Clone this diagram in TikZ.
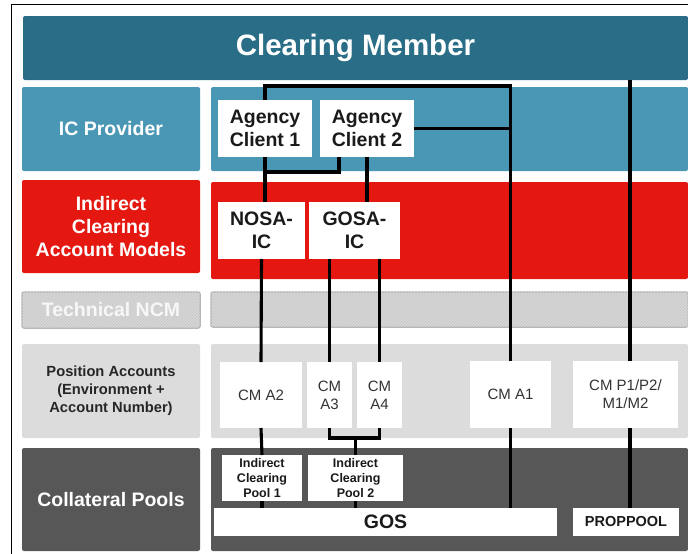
\documentclass[tikz,border=0pt]{standalone}
\usepackage{fontspec}
\setmainfont{Liberation Sans}
\usetikzlibrary{calc,patterns}

\definecolor{memberteal}{RGB}{41,110,134}
\definecolor{providerblue}{RGB}{74,151,181}
\definecolor{modelred}{RGB}{228,24,16}
\definecolor{ncmgray}{RGB}{206,206,206}
\definecolor{ncmedge}{RGB}{182,182,182}
\definecolor{ncmhatch}{RGB}{218,218,218}
\definecolor{posgray}{RGB}{220,220,220}
\definecolor{poolgray}{RGB}{87,87,87}
\definecolor{cardtext}{RGB}{26,26,26}

\begin{document}
\begin{tikzpicture}[x=1pt, y=-1pt]

        % Pixel grid of the page, y runs downwards
        \useasboundingbox (0,0) rectangle (688,554);

        \tikzset{
            band/.style={anchor=north west, inner sep=0pt, outer sep=0pt,
                rounded corners=2pt, align=center},
            leftlabel/.style={band, minimum width=178pt, text=white,
                font=\bfseries\fontsize{19.5}{23}\selectfont},
            rightband/.style={band, minimum width=477pt},
            card/.style={anchor=north west, fill=white, inner sep=0pt,
                outer sep=0pt, align=center, text=cardtext,
                font=\bfseries\fontsize{19.5}{23}\selectfont},
            account/.style={card, font=\fontsize{15}{18}\selectfont,
                text=black!80},
            pool/.style={card, font=\bfseries\fontsize{12.5}{15}\selectfont},
            link/.style={line width=3.1pt, black}
        }

        % Outer frame, cut off at the right
        \draw[line width=1pt] (11,554) -- (11,4) -- (688,4);

        % Header bar
        \node[band, fill=memberteal, minimum width=665pt, minimum height=64pt,
            text=white, font=\bfseries\fontsize{29.5}{34}\selectfont]
            (cm) at (23,16) {Clearing Member};

        % Row labels on the left
        \node[leftlabel, fill=providerblue, minimum height=84pt]
            (icp) at (22,87) {IC Provider};
        \node[leftlabel, fill=modelred, minimum height=93pt]
            (ica) at (22,180) {Indirect\\Clearing\\Account Models};
        \node[leftlabel, fill=ncmgray, draw=ncmedge, line width=1.5pt,
            postaction={pattern=north east lines, pattern color=ncmhatch},
            minimum height=36pt, text=white!94!gray]
            (tnc) at (22,292) {Technical NCM};
        \node[leftlabel, fill=posgray, minimum height=94pt, text=black!85,
            font=\bfseries\fontsize{14.7}{18}\selectfont]
            (pos) at (22,344) {Position Accounts\\(Environment +\\Account Number)};
        \node[leftlabel, fill=poolgray, minimum height=103pt]
            (col) at (22,448) {Collateral Pools};

        % Bands on the right
        \node[rightband, fill=providerblue, minimum height=84pt] (icpband) at (211,87) {};
        \node[rightband, fill=modelred, minimum height=97pt] (icaband) at (211,182) {};
        \node[rightband, fill=ncmgray, draw=ncmedge, line width=1.5pt,
            postaction={pattern=north east lines, pattern color=ncmhatch},
            minimum height=35pt] (tncband) at (211,292) {};
        \node[rightband, fill=posgray, minimum height=94pt] (posband) at (211,344) {};
        \node[rightband, fill=poolgray, minimum height=103pt] (colband) at (211,448) {};

        % Clients and account models
        \node[card, minimum width=94pt, minimum height=57pt] (cl1) at (218,100) {Agency\\Client 1};
        \node[card, minimum width=94pt, minimum height=57pt] (cl2) at (320,100) {Agency\\Client 2};
        \node[card, minimum width=87pt, minimum height=57pt] (nosa) at (218,202) {NOSA-\\IC};
        \node[card, minimum width=91pt, minimum height=57pt] (gosa) at (309,202) {GOSA-\\IC};

        % Position accounts
        \node[account, minimum width=82pt, minimum height=66pt] (cma2) at (220,362) {CM A2};
        \node[account, minimum width=45pt, minimum height=66pt] (cma3) at (307,362) {CM\\A3};
        \node[account, minimum width=45pt, minimum height=66pt] (cma4) at (357,362) {CM\\A4};
        \node[account, minimum width=81pt, minimum height=67pt] (cma1) at (470,361) {CM A1};
        \node[account, minimum width=105pt, minimum height=67pt] (cmp) at (573,361) {CM P1/P2/\\M1/M2};

        % Collateral pools
        \node[pool, minimum width=80pt, minimum height=46pt] (pool1) at (222,455) {Indirect\\Clearing\\Pool 1};
        \node[pool, minimum width=95pt, minimum height=46pt] (pool2) at (308,455) {Indirect\\Clearing\\Pool 2};
        \node[card, minimum width=343pt, minimum height=28pt] (gos) at (214,508) {GOS};
        \node[card, minimum width=106pt, minimum height=28pt,
            font=\bfseries\fontsize{14.5}{17}\selectfont] (prop) at (573,508) {PROPPOOL};

        \coordinate (brk) at ($(cma3.south) + (0,10)$);

        \begin{scope}[link]
            \draw (cl1.north) -- ++(0,-14) -| (cma1.north);
            \draw (cl2.east) -- (cl2.east -| cma1);
            \draw (cl1.south) -- (cl1.south |- nosa.north);
            \draw ([xshift=-28pt]cl2.south) -- ++(0,15) -| (cl1.south);
            \draw (cl2.south) -- (cl2.south |- gosa.north);

            \draw (nosa.south) -- (cma2.north);
            \draw (cma3.north |- gosa.south) -- (cma3.north);
            \draw (cma4.north |- gosa.south) -- (cma4.north);

            \draw (cma2.south) -- (pool1.north);
            \draw (cma3.south) |- (brk) -| (cma4.south);
            \draw (pool2.north) -- (pool2.north |- brk);
            \draw (pool1.south) -- (pool1.south |- gos.north);
            \draw (pool2.south) -- (pool2.south |- gos.north);
            \draw (cma1.south) -- (cma1.south |- gos.north);

            \draw ([xshift=4.5pt]cmp.north |- cm.south) -- ([xshift=4.5pt]cmp.north);
            \draw ([xshift=4.5pt]cmp.south) -- ([xshift=4.5pt]cmp.south |- prop.north);
        \end{scope}

\end{tikzpicture}
\end{document}
